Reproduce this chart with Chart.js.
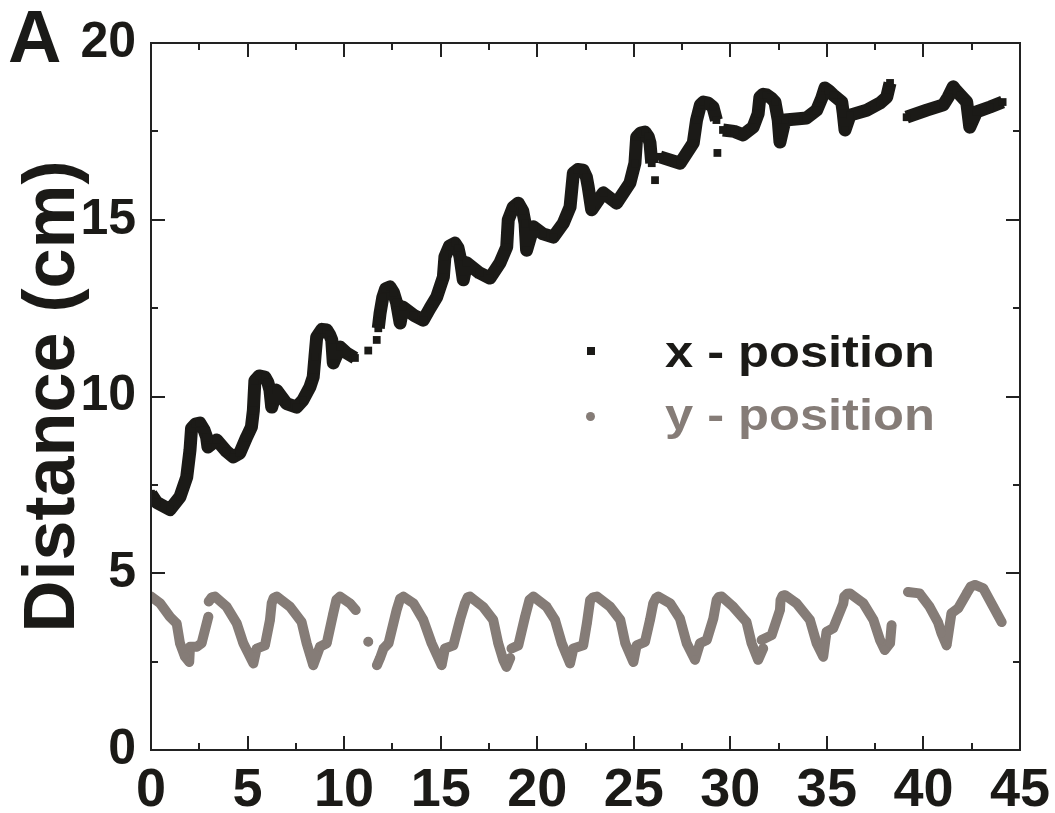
<!DOCTYPE html>
<html lang="en">
<head>
    <meta charset="UTF-8">
    <title>Distance vs time</title>
    <script src="https://cdn.jsdelivr.net/npm/chart.js"></script>
    <style>
        body {
            margin: 0;
            background: #ffffff;
            font-family: 'Liberation Sans', Arial, sans-serif;
        }
        .wrap {
            position: relative;
            width: 1055px;
            height: 813px;
        }
        .panel-label {
            position: absolute;
            left: 8px;
            top: 0px;
            font-size: 74px;
            font-weight: bold;
            line-height: 1;
            color: #1a1a18;
        }
        .legend-item {
            position: absolute;
            left: 665px;
            font-size: 44px;
            font-weight: bold;
            line-height: 1;
            white-space: nowrap;
            transform: scaleX(1.15);
            transform-origin: left center;
        }
        .marker {
            position: absolute;
        }
    </style>
</head>
<body>
<div class="wrap">
    <canvas id="chart" width="1055" height="813"></canvas>
    <div class="panel-label">A</div>
    <div class="marker" style="left:587px; top:347px; width:8px; height:8px; background:#1b1a17;"></div>
    <div class="legend-item" style="top:330px; color:#1b1a17;">x - position</div>
    <div class="marker" style="left:586px; top:412px; width:9px; height:9px; border-radius:50%; background:#857c77;"></div>
    <div class="legend-item" style="top:393px; color:#857c77;">y - position</div>
</div>

<script>
    // x - position (black squares), time in s, null = gap
    const xPosTime = [
        0.00, 0.30, 0.98, 1.50, 1.85, 2.02, 2.10, 2.30, 2.53, 2.75, 2.88, 2.95, 3.40, 3.90, 4.26, 4.60, 4.95,
        5.20, 5.30, 5.38, 5.60, 5.90, 6.05, 6.16, 6.25, 6.50, 7.02, 7.54, 7.87, 8.23, 8.40, 8.49, 8.58, 8.85, 9.10,
        9.25, 9.36, 9.44, 9.79, 10.13, 10.56, 10.9, 11.25, 11.45, 11.69, 11.73, 11.77, 11.86, 12.00, 12.15, 12.37, 12.55, 12.72,
        12.90, 13.05, 13.60, 14.10, 14.45, 14.80, 15.14, 15.22, 15.45, 15.74, 15.90, 16.00, 16.17, 16.35, 17.00, 17.55, 18.07,
        18.42, 18.50, 18.75, 19.02, 19.25, 19.37, 19.45, 19.80, 20.30, 20.83, 21.35, 21.70, 21.87, 22.10, 22.38, 22.55, 22.64, 22.82, 23.42,
        24.11, 24.80, 25.06, 25.15, 25.35, 25.58, 25.75, 25.84, 25.93, 26.0, 26.10, 26.2, 26.36, 27.40, 28.08, 28.25, 28.45, 28.60,
        28.85, 29.10, 29.28, 29.30, 29.33, 29.45, 29.62, 30.20, 30.66, 31.18, 31.44, 31.53, 31.70, 31.88, 32.10, 32.31, 32.48, 32.57,
        32.83, 33.40, 33.95, 34.47, 34.73, 34.90, 35.10, 35.33, 35.77, 35.85, 35.94, 36.20, 37.06, 37.75, 38.10, 38.27,
        38.7, 39.13, 40.17, 41.03, 41.28, 41.54, 41.70, 41.90, 42.24, 42.40, 42.75, 43.45, 44.10
    ];
    const xPosDist = [
        7.25, 7.00, 6.80, 7.16, 7.72, 8.49, 9.10, 9.22, 9.25, 9.05, 8.85, 8.57, 8.77, 8.45, 8.29, 8.40, 8.85,
        9.14, 9.60, 10.45, 10.58, 10.55, 10.40, 10.18, 9.70, 10.18, 9.80, 9.70, 9.90, 10.27, 10.55, 11.12, 11.68, 11.90, 11.88,
        11.75, 11.60, 10.95, 11.40, 11.23, 11.09, null, 11.30, null, 11.60, null, 11.93, 12.35, 12.80, 13.05, 13.10, 12.95, 12.65,
        12.08, 12.53, 12.30, 12.16, 12.50, 12.82, 13.38, 13.95, 14.25, 14.34, 14.20, 13.95, 13.30, 13.78, 13.50, 13.35, 13.78,
        14.23, 15.00, 15.35, 15.47, 15.25, 14.90, 14.14, 14.80, 14.60, 14.51, 14.90, 15.36, 16.32, 16.42, 16.40, 16.20, 15.93, 15.28, 15.76,
        15.47, 16.04, 16.60, 17.34, 17.45, 17.48, 17.35, 17.17, 16.60, null, 16.12, null, 16.78, 16.60, 17.17, 17.82, 18.25, 18.33,
        18.30, 18.19, 17.82, null, 16.89, null, 17.54, 17.50, 17.40, 17.62, 18.00, 18.47, 18.55, 18.53, 18.45, 18.33, 17.82, 17.20,
        17.82, 17.85, 17.88, 18.10, 18.44, 18.73, 18.65, 18.53, 18.33, 18.00, 17.54, 17.96, 18.10, 18.30, 18.47, 18.87,
        null, 17.90, 18.10, 18.25, 18.47, 18.76, 18.65, 18.53, 18.33, 17.62, 18.05, 18.19, 18.33
    ];

    // y - position (grey dots)
    const yPosTime = [
        0.00, 0.47, 0.98, 1.33, 1.50, 1.76, 1.98, 2.02, 2.37, 2.62, 2.97, 2.98, 2.99, 3.15, 3.31, 3.92,
        4.44, 4.78, 5.30, 5.47, 5.90, 6.16, 6.25, 6.35, 6.51, 7.20, 7.80, 8.06, 8.40, 8.75, 9.10, 9.44,
        9.60, 9.79, 10.30, 10.60, 10.9, 11.25, 11.45, 11.70, 11.86, 12.04, 12.30, 12.72, 12.90, 13.07, 13.59, 14.10, 14.53,
        15.05, 15.22, 15.66, 16.00, 16.26, 16.40, 16.52, 17.20, 17.72, 17.98, 18.24, 18.41, 18.60, 18.63, 18.67, 19.02,
        19.37, 19.60, 19.80, 20.49, 20.92, 21.27, 21.70, 21.87, 22.38, 22.57, 22.74, 22.90, 23.09, 23.78, 24.30, 24.56, 24.98,
        25.15, 25.58, 25.84, 26.01, 26.15, 26.27, 26.88, 27.39, 27.74, 28.17, 28.43, 28.78, 29.12, 29.29, 29.40, 29.55, 30.15,
        30.84, 31.10, 31.44, 31.70, 31.66, 31.62, 32.14, 32.57, 32.60, 32.70, 32.83, 33.43, 34.12, 34.47, 34.81, 34.98,
        35.33, 35.85, 35.90, 36.05, 36.20, 36.89, 37.41, 37.75, 38.00, 38.27, 38.35, 38.8, 39.20, 39.80, 40.32, 40.75,
        40.93, 41.20, 41.45, 41.80, 42.24, 42.45, 42.67, 43.10, 43.62, 44.05
    ];
    const yPosDist = [
        4.34, 4.15, 3.77, 3.58, 3.02, 2.64, 2.49, 2.92, 2.92, 3.02, 3.77, null, 4.20, 4.32, 4.34, 4.05,
        3.58, 3.02, 2.45, 2.87, 2.96, 3.68, 4.15, 4.30, 4.34, 4.05, 3.62, 3.02, 2.40, 2.92, 3.02, 3.87,
        4.25, 4.34, 4.15, 3.96, null, 3.06, null, 2.40, 2.60, 2.87, 3.02, 3.96, 4.28, 4.34, 4.15, 3.68, 3.02,
        2.40, 2.87, 2.96, 3.68, 4.15, 4.32, 4.34, 4.05, 3.68, 3.02, 2.55, 2.35, 2.60, null, 2.87, 2.96,
        3.77, 4.25, 4.34, 4.05, 3.68, 3.02, 2.45, 2.87, 2.96, 3.58, 4.24, 4.32, 4.34, 4.05, 3.68, 3.02, 2.49,
        2.96, 3.06, 3.68, 4.15, 4.30, 4.34, 4.15, 3.72, 3.02, 2.55, 3.02, 3.11, 3.72, 4.24, 4.33, 4.34, 4.05,
        3.62, 3.02, 2.55, 2.87, null, 3.11, 3.25, 3.96, 4.24, 4.36, 4.38, 4.15, 3.68, 3.02, 2.64, 3.34,
        3.45, 4.15, 4.34, 4.42, 4.43, 4.15, 3.68, 3.11, 2.83, 3.02, 3.53, null, 4.47, 4.43, 4.05, 3.62,
        3.31, 2.96, 3.87, 4.01, 4.43, 4.62, 4.67, 4.57, 4.05, 3.62
    ];

    const xTicks = [0, 5, 10, 15, 20, 25, 30, 35, 40, 45];
    const yTicks = [0, 5, 10, 15, 20];

    const ink = '#1b1a17';
    const grey = '#857c77';

    // inward major/minor ticks on all four sides plus frame
    const frameTicks = {
        id: 'frameTicks',
        afterDraw(chart) {
            const { ctx, chartArea: a, scales: { x, y } } = chart;
            ctx.save();
            ctx.strokeStyle = '#222';
            ctx.lineWidth = 2;
            ctx.strokeRect(a.left, a.top, a.right - a.left, a.bottom - a.top);
            const major = 14, minor = 7;
            for (let i = 0; i < xTicks.length; i++) {
                const vals = [xTicks[i]];
                if (i < xTicks.length - 1) vals.push((xTicks[i] + xTicks[i + 1]) / 2);
                vals.forEach((v, k) => {
                    const len = k === 0 ? major : minor;
                    const px = Math.round(x.getPixelForValue(v));
                    ctx.beginPath();
                    ctx.moveTo(px, a.bottom); ctx.lineTo(px, a.bottom - len);
                    ctx.moveTo(px, a.top); ctx.lineTo(px, a.top + len);
                    ctx.stroke();
                });
            }
            for (let i = 0; i < yTicks.length; i++) {
                const vals = [yTicks[i]];
                if (i < yTicks.length - 1) vals.push((yTicks[i] + yTicks[i + 1]) / 2);
                vals.forEach((v, k) => {
                    const len = k === 0 ? major : minor;
                    const py = Math.round(y.getPixelForValue(v));
                    ctx.beginPath();
                    ctx.moveTo(a.left, py); ctx.lineTo(a.left + len, py);
                    ctx.moveTo(a.right, py); ctx.lineTo(a.right - len, py);
                    ctx.stroke();
                });
            }
            ctx.restore();
        }
    };

    const ctx = document.getElementById('chart').getContext('2d');
    new Chart(ctx, {
        type: 'line',
        data: {
            datasets: [
                {
                    label: 'x - position',
                    data: xPosTime.map((t, i) => ({ x: t, y: xPosDist[i] })),
                    borderColor: ink,
                    backgroundColor: ink,
                    borderWidth: 13,
                    borderJoinStyle: 'round',
                    pointStyle: 'rect',
                    pointRadius: 5.5,
                    pointBorderWidth: 0,
                    tension: 0,
                    spanGaps: false
                },
                {
                    label: 'y - position',
                    data: yPosTime.map((t, i) => ({ x: t, y: yPosDist[i] })),
                    borderColor: grey,
                    backgroundColor: grey,
                    borderWidth: 10,
                    borderCapStyle: 'round',
                    borderJoinStyle: 'round',
                    pointStyle: 'circle',
                    pointRadius: 4.5,
                    pointBorderWidth: 0,
                    tension: 0,
                    spanGaps: false
                }
            ]
        },
        options: {
            responsive: false,
            animation: false,
            layout: { padding: { top: 43, right: 35, left: 0, bottom: 0 } },
            plugins: {
                legend: { display: false },
                tooltip: { enabled: false }
            },
            scales: {
                x: {
                    type: 'linear',
                    min: 0,
                    max: 45,
                    afterFit: s => { s.height = 63; s.paddingLeft = 0; s.paddingRight = 0; },
                    afterBuildTicks: s => { s.ticks = xTicks.map(v => ({ value: v })); },
                    grid: { display: false, drawTicks: false },
                    border: { display: false },
                    ticks: {
                        padding: 9,
                        color: ink,
                        font: { family: "'Liberation Sans', Arial, sans-serif", size: 54, weight: 'bold' }
                    }
                },
                y: {
                    min: 0,
                    max: 20,
                    afterFit: s => { s.width = 151; s.paddingTop = 0; s.paddingBottom = 0; },
                    afterBuildTicks: s => { s.ticks = yTicks.map(v => ({ value: v })); },
                    grid: { display: false, drawTicks: false },
                    border: { display: false },
                    ticks: {
                        padding: 15,
                        color: ink,
                        font: { family: "'Liberation Sans', Arial, sans-serif", size: 50, weight: 'bold' }
                    },
                    title: {
                        display: true,
                        text: 'Distance (cm)',
                        color: ink,
                        padding: { top: 18, bottom: 0 },
                        font: { family: "'Liberation Sans', Arial, sans-serif", size: 72, weight: 'bold', lineHeight: 1 }
                    }
                }
            }
        },
        plugins: [frameTicks]
    });
</script>
</body>
</html>
